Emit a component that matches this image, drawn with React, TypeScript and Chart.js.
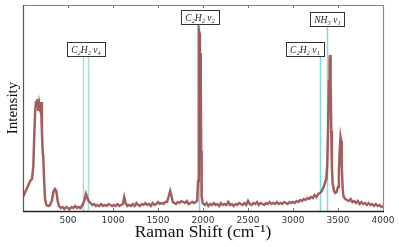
import React, { useEffect, useRef } from "react";
import { Chart, registerables } from "chart.js";

Chart.register(...registerables);

// Raman shift (cm^-1)
const shifts = [
  0, 20, 40, 60, 80, 100, 115, 125, 135, 145, 152, 160, 170, 180, 190, 200, 210, 218, 225, 235, 245, 260, 280, 300,
  320, 340, 355, 370, 385, 400, 420, 440, 460, 480, 500, 520, 540, 560, 580, 600, 620, 640, 660, 680, 700, 715, 730,
  750, 770, 790, 810, 830, 850, 870, 890, 910, 930, 950, 970, 990, 1010, 1030, 1050, 1070, 1090, 1110, 1125, 1140,
  1160, 1180, 1200, 1220, 1240, 1260, 1280, 1300, 1320, 1340, 1360, 1380, 1400, 1420, 1440, 1460, 1480, 1500, 1520,
  1540, 1560, 1580, 1600, 1620, 1635, 1650, 1665, 1680, 1700, 1720, 1740, 1760, 1780, 1800, 1820, 1840, 1860, 1880,
  1900, 1920, 1935, 1945, 1950, 1955, 1960, 1965, 1970, 1975, 1980, 1985, 1995, 2020, 2040, 2060, 2080, 2100, 2120,
  2140, 2160, 2180, 2200, 2220, 2240, 2260, 2280, 2300, 2320, 2340, 2360, 2380, 2400, 2420, 2440, 2460, 2480, 2500,
  2520, 2540, 2560, 2580, 2600, 2620, 2640, 2660, 2680, 2700, 2720, 2740, 2760, 2780, 2800, 2820, 2840, 2860, 2880,
  2900, 2920, 2940, 2960, 2980, 3000, 3020, 3040, 3060, 3080, 3100, 3120, 3140, 3160, 3180, 3200, 3220, 3240, 3260,
  3280, 3300, 3320, 3340, 3355, 3370, 3380, 3390, 3400, 3407, 3412, 3418, 3425, 3432, 3440, 3455, 3470, 3485, 3500,
  3510, 3520, 3528, 3535, 3542, 3550, 3560, 3580, 3600, 3620, 3640, 3660, 3680, 3700, 3720, 3740, 3760, 3780, 3800,
  3820, 3840, 3860, 3880, 3900, 3920, 3940, 3960, 3980, 4000,
];

// Intensity (arbitrary units)
const intensity = [
  14, 18, 22, 26, 30, 32, 45, 75, 100, 110, 104, 112, 100, 108, 103, 109, 80, 60, 55, 30, 12, 6, 5, 6,
  10, 20, 22, 20, 10, 5, 3, 4, 2, 4, 3, 2, 4, 3, 5, 3, 4, 3, 6, 10, 17, 13, 10,
  8, 6, 7, 5, 6, 5, 7, 5, 6, 5, 7, 6, 5, 6, 5, 7, 5, 6, 7, 14, 8,
  5, 6, 5, 7, 5, 8, 6, 5, 7, 6, 8, 6, 7, 5, 8, 6, 7, 9, 7,
  8, 7, 9, 9, 15, 20, 15, 9, 8, 7, 9, 8, 10, 9, 8, 10, 7, 8, 9,
  8, 9, 10, 30, 120, 181, 178, 150, 158, 140, 60, 15, 8, 6, 8, 5, 7, 6, 8,
  6, 7, 5, 8, 6, 7, 6, 9, 6, 7, 5, 7, 6, 8, 7, 6, 8, 6, 10,
  7, 6, 8, 7, 9, 6, 8, 7, 6, 8, 7, 9, 7, 8, 7, 9, 7, 8, 7,
  9, 8, 7, 9, 8, 9, 8, 10, 9, 11, 10, 12, 11, 13, 12, 14, 13, 16, 14,
  17, 18, 20, 24, 28, 32, 45, 80, 130, 152, 156, 130, 80, 45, 28, 20, 18, 19, 24,
  40, 62, 74, 70, 45, 25, 15, 12, 11, 10, 12, 9, 10, 8, 10, 7, 9, 7, 8,
  6, 8, 6, 7, 5, 7, 5, 6, 4, 5,
];

// Assignment markers (cm^-1) and the intensity at which each marker line starts
const markerShifts = [670, 722, 1950, 3300, 3374];
const markerTops = [155, 155, 187, 155, 185];

// Assignment labels
const labelTexts = ["C₂H₂ ν₄", "C₂H₂ ν₂", "C₂H₂ ν₁", "NH₃ ν₁"];
const labelShifts = [700, 1967, 3133, 3383];
const labelBottoms = [155, 187, 155, 185];

const xTicks = [500, 1000, 1500, 2000, 2500, 3000, 3500, 4000];

export default function App() {
  const ref = useRef<HTMLCanvasElement | null>(null);

  useEffect(() => {
    document.body.style.margin = "0";
    const canvas = ref.current;
    if (!canvas) return;

    const framePlugin = {
      id: "frame",
      beforeDatasetsDraw(chart: any) {
        const { ctx, chartArea, scales } = chart;
        const x = scales.x;
        const y = scales.y;
        ctx.save();
        ctx.lineWidth = 1.5;
        markerShifts.forEach((s, i) => {
          const px = Math.round(x.getPixelForValue(s)) + 0.5;
          ctx.strokeStyle = i < 2 ? "rgba(150,215,200,0.85)" : "rgba(110,210,215,0.85)";
          ctx.beginPath();
          ctx.moveTo(px, y.getPixelForValue(markerTops[i]));
          ctx.lineTo(px, chartArea.bottom);
          ctx.stroke();
        });
        ctx.restore();
      },
      afterDatasetsDraw(chart: any) {
        const { ctx, chartArea, scales } = chart;
        const x = scales.x;
        const y = scales.y;
        const { left, right, top, bottom } = chartArea;
        ctx.save();
        // frame
        ctx.lineWidth = 1.2;
        ctx.strokeStyle = "#8a8a8a";
        ctx.beginPath();
        ctx.moveTo(left, top + 0.5);
        ctx.lineTo(right + 0.5, top + 0.5);
        ctx.lineTo(right + 0.5, bottom);
        ctx.stroke();
        ctx.strokeStyle = "#555";
        ctx.beginPath();
        ctx.moveTo(left + 0.5, top);
        ctx.lineTo(left + 0.5, bottom);
        ctx.stroke();
        ctx.strokeStyle = "#222";
        ctx.lineWidth = 1.5;
        ctx.beginPath();
        ctx.moveTo(left, bottom + 0.5);
        ctx.lineTo(right + 1, bottom + 0.5);
        ctx.stroke();
        // inward ticks
        ctx.strokeStyle = "#777";
        ctx.lineWidth = 1;
        xTicks.forEach((t) => {
          if (t >= 4000) return;
          const px = Math.round(x.getPixelForValue(t)) + 0.5;
          ctx.beginPath();
          ctx.moveTo(px, top);
          ctx.lineTo(px, top + 3);
          ctx.moveTo(px, bottom);
          ctx.lineTo(px, bottom - 3);
          ctx.stroke();
        });
        // labels
        ctx.font = "italic 9.5px 'Liberation Serif', serif";
        ctx.textAlign = "center";
        ctx.textBaseline = "middle";
        labelTexts.forEach((txt, i) => {
          const cx = x.getPixelForValue(labelShifts[i]);
          const by = y.getPixelForValue(labelBottoms[i]);
          const w = Math.round(ctx.measureText(txt).width + 8);
          const h = 14;
          const bx = Math.round(cx - w / 2) + 0.5;
          const byy = Math.round(by - h) + 0.5;
          ctx.fillStyle = "#fff";
          ctx.fillRect(bx, byy, w, h);
          ctx.strokeStyle = "#333";
          ctx.lineWidth = 1;
          ctx.strokeRect(bx, byy, w, h);
          ctx.fillStyle = "#222";
          ctx.fillText(txt, cx, byy + h / 2 + 0.5);
        });
        ctx.restore();
      },
    };

    const chart = new Chart(canvas, {
      type: "line",
      data: {
        datasets: [
          {
            data: shifts.map((s, i) => ({ x: s, y: intensity[i] })),
            borderColor: "rgba(155,80,80,0.92)",
            borderWidth: 2.5,
            pointRadius: 0,
            tension: 0,
            fill: false,
          },
        ],
      },
      options: {
        responsive: false,
        animation: false,
        events: [],
        layout: { padding: { top: 5, right: 16, left: 0, bottom: 0 } },
        plugins: { legend: { display: false }, tooltip: { enabled: false } },
        scales: {
          x: {
            type: "linear",
            min: 0,
            max: 4000,
            afterFit: (s: any) => {
              s.height = 36;
            },
            afterBuildTicks: (s: any) => {
              s.ticks = xTicks.map((v) => ({ value: v }));
            },
            grid: { display: false, drawTicks: false },
            border: { display: false },
            ticks: {
              padding: 4,
              maxRotation: 0,
              color: "#333",
              font: { family: "'DejaVu Sans', sans-serif", size: 9 },
              callback: (v: any) => String(v),
            },
            title: {
              display: true,
              text: "Raman Shift (cm⁻¹)",
              color: "#111",
              font: { family: "'Liberation Serif', serif", size: 17.5 },
              padding: { top: 0, bottom: 4 },
            },
          },
          y: {
            min: 0,
            max: 206,
            afterFit: (s: any) => {
              s.width = 23;
            },
            grid: { display: false, drawTicks: false },
            border: { display: false },
            ticks: { display: false },
            title: {
              display: true,
              text: "Intensity",
              color: "#111",
              font: { family: "'Liberation Serif', serif", size: 15 },
              padding: { top: 4, bottom: 0 },
            },
          },
        },
      },
      plugins: [framePlugin],
    });

    return () => chart.destroy();
  }, []);

  return (
    <div style={{ width: 399, height: 247 }}>
      <canvas ref={ref} width={399} height={247} style={{ display: "block" }} />
    </div>
  );
}
